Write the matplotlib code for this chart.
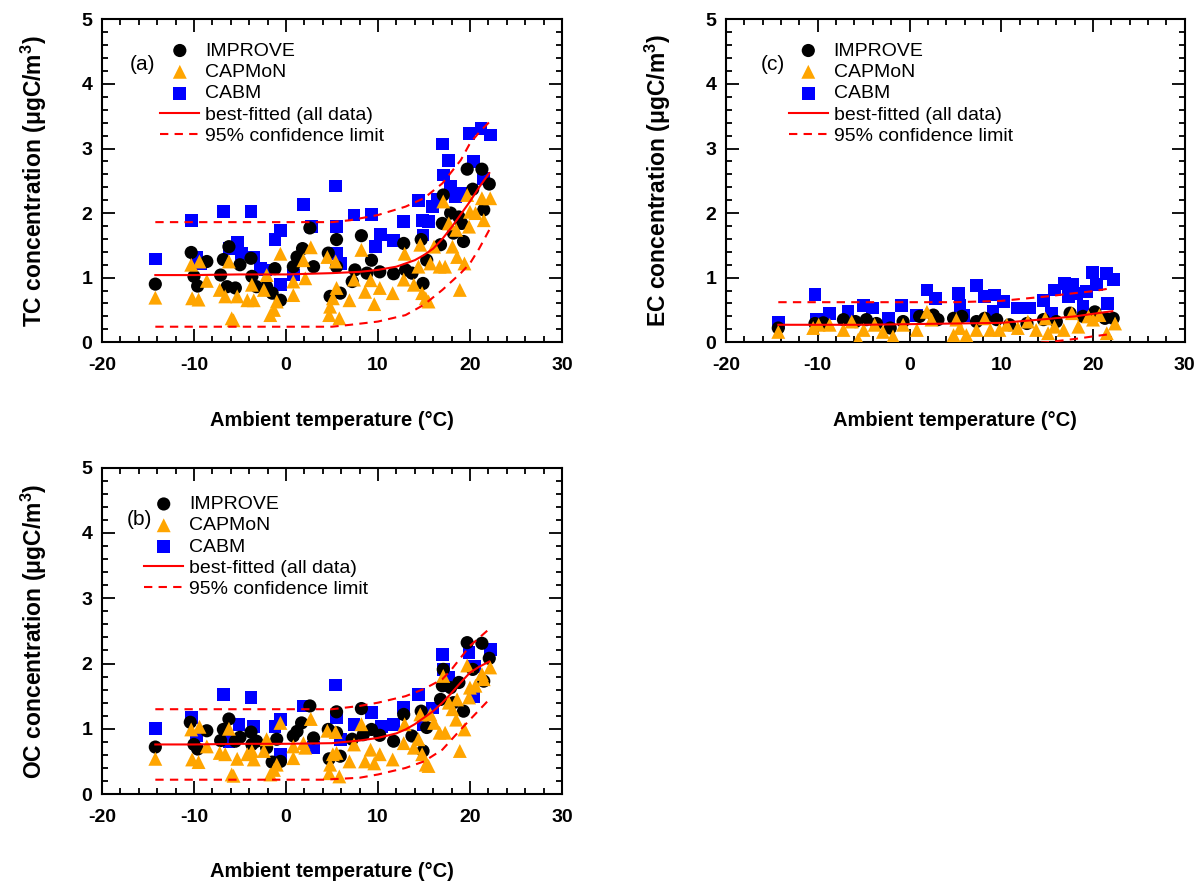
import matplotlib
matplotlib.use('Agg')
import matplotlib.pyplot as plt
from matplotlib.ticker import MultipleLocator

plt.rcParams['font.family'] = ['Liberation Sans', 'DejaVu Sans']
plt.rcParams['mathtext.fontset'] = 'custom'
plt.rcParams['mathtext.rm'] = 'Liberation Sans:bold'
plt.rcParams['mathtext.bf'] = 'Liberation Sans:bold'
plt.rcParams['axes.unicode_minus'] = False

# ---- (a) TC ----
tc_imp_t = [-14.2, -10.3, -10.0, -9.6, -8.6, -7.1, -6.8, -6.2, -6.4, -5.5, -5.0, -3.8, -3.7, -3.2, -2.1, -1.5,
            -1.2, -0.6, 0.8, 1.8, 2.6, 3.0, 1.2, 4.6, 4.8, 5.5, 5.5, 5.9, 7.2, 7.5, 8.2, 8.8, 9.3, 10.2, 11.7,
            12.8, 13.0, 13.7, 14.7, 14.9, 15.3, 16.8, 17.0, 17.1, 17.9, 18.2, 18.8, 19.3, 19.1, 19.7, 20.3,
            21.3, 21.5, 22.1]
tc_imp = [0.90, 1.39, 1.02, 0.87, 1.25, 1.04, 1.28, 1.48, 0.86, 0.84, 1.20, 1.30, 1.02, 0.86, 0.86, 0.76,
          1.14, 0.65, 1.17, 1.45, 1.77, 1.17, 1.32, 1.38, 0.71, 1.59, 1.17, 0.76, 0.94, 1.12, 1.65, 1.07, 1.27,
          1.09, 1.06, 1.53, 1.12, 1.07, 1.59, 0.91, 1.27, 1.51, 1.84, 2.28, 2.00, 1.69, 1.94, 1.56, 1.84, 2.68,
          2.37, 2.68, 2.05, 2.45]
tc_cap_t = [-14.2, -10.3, -10.2, -9.5, -9.4, -8.6, -7.2, -6.2, -6.6, -5.9, -5.7, -5.3, -4.2, -3.7, -3.5, -2.4,
            -2.1, -1.7, -1.3, -1.0, -0.6, 0.8, 0.8, 1.9, 2.1, 2.7, 4.5, 4.7, 4.8, 5.1, 5.4, 5.5, 5.8, 6.9, 7.4,
            8.2, 8.6, 9.2, 9.6, 10.2, 11.6, 12.8, 12.9, 13.9, 14.4, 14.6, 14.8, 15.2, 15.5, 15.7, 16.1, 16.7,
            17.1, 17.3, 17.7, 18.1, 18.5, 18.6, 18.9, 19.4, 19.7, 19.9, 20.0, 20.6, 21.3, 21.5, 22.2]
tc_cap = [0.69, 1.20, 0.68, 0.66, 1.25, 0.95, 0.81, 1.25, 0.71, 0.37, 0.34, 0.71, 0.65, 0.89, 0.65, 0.81,
          1.04, 0.42, 0.50, 0.63, 1.37, 0.73, 0.94, 1.27, 0.99, 1.47, 1.32, 0.42, 0.55, 0.68, 1.25, 0.84, 0.37,
          0.65, 0.97, 1.43, 0.78, 0.96, 0.59, 0.84, 0.76, 0.97, 1.37, 0.89, 1.17, 1.51, 0.76, 0.68, 0.63, 1.22,
          1.48, 1.17, 2.18, 1.17, 1.84, 1.48, 1.74, 1.32, 0.81, 1.22, 2.28, 1.79, 2.02, 2.00, 2.23, 1.89, 2.23]
tc_cab_t = [-14.2, -10.3, -9.7, -9.3, -6.8, -6.2, -5.3, -4.8, -3.8, -3.5, -2.8, -2.2, -1.2, -0.6, -0.6, 0.8,
            1.9, 2.8, 5.4, 5.5, 5.5, 5.9, 7.4, 9.3, 9.7, 10.3, 11.7, 12.8, 14.4, 14.8, 15.5, 14.9, 15.9, 16.5,
            17.0, 17.1, 17.7, 17.9, 18.4, 19.1, 19.9, 20.4, 21.2, 21.5, 22.2]
tc_cab = [1.29, 1.88, 1.32, 1.22, 2.02, 1.45, 1.55, 1.38, 2.03, 1.32, 1.14, 1.12, 1.59, 1.73, 0.89, 1.04,
          2.13, 1.79, 2.42, 1.79, 1.38, 1.22, 1.97, 1.98, 1.48, 1.67, 1.58, 1.87, 2.19, 1.88, 1.87, 1.66, 2.10,
          2.21, 3.07, 2.59, 2.82, 2.41, 2.25, 2.30, 3.23, 2.80, 3.31, 2.54, 3.21]
tc_fit_t = [-14.2, -10, -5, 0, 5, 8, 10, 12, 14, 15, 16, 17, 18, 19, 20, 21, 22.1]
tc_fit = [1.04, 1.04, 1.05, 1.05, 1.07, 1.09, 1.12, 1.17, 1.27, 1.35, 1.45, 1.60, 1.78, 1.98, 2.18, 2.40, 2.62]
tc_up_t = [-14.2, -5, 0, 5, 7, 10, 13, 15, 17, 19, 20, 21, 22.1]
tc_up = [1.86, 1.86, 1.86, 1.86, 1.89, 1.97, 2.10, 2.23, 2.46, 2.82, 3.08, 3.25, 3.41]
tc_lo_t = [-14.2, -5, 0, 5, 7, 10, 13, 15, 17, 19, 20, 21, 22.1]
tc_lo = [0.24, 0.24, 0.24, 0.24, 0.27, 0.32, 0.42, 0.58, 0.81, 1.07, 1.22, 1.45, 1.74]

# ---- (b) OC ----
oc_imp_t = [-14.2, -10.4, -10.0, -9.6, -8.6, -7.1, -6.8, -6.2, -5.5, -5.0, -3.8, -3.7, -3.2, -2.1, -1.5, -1.0,
            -0.6, 0.8, 1.7, 2.6, 3.0, 1.2, 4.6, 4.7, 5.5, 5.5, 5.9, 7.2, 8.2, 8.4, 9.3, 10.2, 11.7, 12.8, 13.7,
            14.7, 14.9, 15.3, 16.8, 17.1, 17.0, 17.9, 18.2, 18.8, 19.3, 19.7, 20.3, 21.3, 21.5, 22.1]
oc_imp = [0.72, 1.10, 0.76, 0.69, 0.97, 0.82, 0.99, 1.15, 0.81, 0.87, 0.95, 0.76, 0.81, 0.71, 0.49, 0.84,
          0.50, 0.89, 1.09, 1.35, 0.86, 0.96, 0.99, 0.54, 1.26, 0.94, 0.58, 0.84, 1.31, 0.91, 0.99, 0.90, 0.81,
          1.22, 0.89, 1.27, 0.66, 1.02, 1.45, 1.91, 1.66, 1.63, 1.40, 1.71, 1.27, 2.32, 1.91, 2.31, 1.73, 2.08]
oc_cap_t = tc_cap_t
oc_cap = [0.54, 0.99, 0.53, 0.49, 1.03, 0.73, 0.63, 1.00, 0.61, 0.30, 0.28, 0.54, 0.61, 0.66, 0.53, 0.66,
          0.84, 0.30, 0.37, 0.45, 1.09, 0.55, 0.73, 0.78, 0.71, 1.15, 0.97, 0.32, 0.45, 0.61, 0.95, 0.63, 0.27,
          0.50, 0.76, 1.07, 0.50, 0.68, 0.47, 0.61, 0.53, 0.78, 1.07, 0.71, 0.84, 1.22, 0.61, 0.45, 0.43, 1.22,
          1.09, 0.94, 1.81, 0.94, 1.40, 1.30, 1.14, 1.45, 0.66, 0.99, 1.97, 1.48, 1.63, 1.66, 1.84, 1.76, 1.94]
oc_cab_t = [-14.2, -10.3, -9.7, -6.8, -6.2, -5.1, -3.8, -3.5, -1.2, -0.6, -0.6, 1.9, 3.0, 5.4, 5.5, 5.9, 7.4,
            9.3, 10.4, 11.7, 12.8, 14.4, 14.9, 15.9, 17.0, 17.1, 17.5, 17.7, 19.9, 20.4, 20.5, 22.2]
oc_cab = [1.00, 1.17, 0.89, 1.53, 0.81, 1.07, 1.48, 1.04, 1.04, 1.14, 0.61, 1.35, 0.71, 1.67, 1.17, 0.84, 1.07,
          1.25, 1.04, 1.07, 1.33, 1.53, 1.07, 1.32, 2.14, 1.91, 1.66, 1.78, 2.17, 1.50, 1.96, 2.22]
oc_fit_t = [-14.2, -10, -5, 0, 5, 8, 10, 12, 13, 14, 15, 16, 17, 18, 19, 20, 21, 22.1]
oc_fit = [0.76, 0.76, 0.77, 0.77, 0.78, 0.82, 0.86, 0.93, 0.99, 1.07, 1.17, 1.27, 1.40, 1.55, 1.71, 1.86, 1.95, 2.03]
oc_up_t = [-14.2, -5, 0, 5, 8, 10, 13, 15, 17, 18, 20, 22.1]
oc_up = [1.30, 1.30, 1.30, 1.30, 1.35, 1.40, 1.50, 1.61, 1.76, 1.91, 2.27, 2.53]
oc_lo_t = [-14.2, -5, 0, 4, 8, 10, 13, 15, 17, 19, 20, 22.1]
oc_lo = [0.22, 0.22, 0.22, 0.22, 0.25, 0.30, 0.40, 0.50, 0.68, 0.99, 1.14, 1.45]

# ---- (c) EC ----
ec_imp_t = [-14.3, -10.3, -9.4, -7.2, -5.9, -4.7, -3.6, -2.1, -0.7, 1.1, 2.6, 3.1, 4.8, 5.7, 7.3, 8.2, 9.5,
            10.9, 12.8, 14.6, 16.0, 17.5, 18.9, 20.2, 21.3, 22.2]
ec_imp = [0.22, 0.29, 0.30, 0.35, 0.32, 0.35, 0.29, 0.22, 0.32, 0.40, 0.42, 0.35, 0.37, 0.40, 0.32, 0.37, 0.35,
          0.27, 0.29, 0.35, 0.32, 0.45, 0.40, 0.47, 0.37, 0.37]
ec_cap_t = [-14.3, -10.5, -9.9, -8.7, -7.2, -6.3, -5.6, -5.0, -3.8, -2.9, -1.8, -0.7, 0.8, 1.9, 2.4, 4.8, 5.1,
            5.5, 6.2, 7.3, 8.2, 8.8, 9.8, 10.6, 11.8, 12.9, 13.8, 14.8, 15.1, 15.8, 16.8, 17.7, 18.4, 19.5,
            20.0, 20.7, 21.5, 22.4]
ec_cap = [0.16, 0.22, 0.27, 0.27, 0.19, 0.32, 0.04, 0.19, 0.27, 0.16, 0.09, 0.27, 0.19, 0.47, 0.35, 0.11, 0.35,
          0.22, 0.11, 0.19, 0.37, 0.19, 0.19, 0.27, 0.22, 0.32, 0.19, 0.37, 0.14, 0.24, 0.19, 0.45, 0.24, 0.40,
          0.35, 0.42, 0.14, 0.29]
ec_cab_t = [-14.3, -10.3, -10.1, -8.7, -6.7, -5.0, -4.0, -2.3, -0.9, 0.8, 1.9, 2.8, 5.3, 5.5, 5.9, 7.3, 8.2,
            9.3, 10.2, 9.1, 11.8, 13.1, 14.6, 15.8, 16.9, 17.8, 17.3, 18.2, 19.3, 19.9, 20.4, 21.5, 21.6, 22.2,
            15.5, 18.9]
ec_cab = [0.30, 0.74, 0.35, 0.45, 0.47, 0.57, 0.53, 0.37, 0.57, 0.42, 0.81, 0.68, 0.76, 0.57, 0.42, 0.88, 0.71,
          0.73, 0.63, 0.47, 0.53, 0.53, 0.65, 0.81, 0.91, 0.89, 0.71, 0.76, 0.78, 1.08, 0.89, 1.07, 0.60, 0.97,
          0.45, 0.55]
ec_fit_t = [-14.3, -5, 0, 5, 10, 15, 18, 20, 22.1]
ec_fit = [0.27, 0.27, 0.28, 0.29, 0.30, 0.36, 0.40, 0.44, 0.48]
ec_up_t = [-14.3, -5, 0, 5, 10, 15, 18, 20, 22.1]
ec_up = [0.62, 0.62, 0.62, 0.62, 0.64, 0.71, 0.76, 0.79, 0.84]
ec_lo_t = [-14.3, 0, 10, 15, 18, 20, 22.1]
ec_lo = [-0.08, -0.06, -0.04, 0.0, 0.05, 0.09, 0.13]

labels = ['IMPROVE', 'CAPMoN', 'CABM', 'best-fitted (all data)', '95% confidence limit']

fig = plt.figure(figsize=(12.01, 8.82), dpi=100)
ax_a = fig.add_axes([0.0849, 0.612, 0.383, 0.366])
ax_c = fig.add_axes([0.6045, 0.612, 0.382, 0.366])
ax_b = fig.add_axes([0.0849, 0.0997, 0.383, 0.370])

# axes, tag, name, data..., legend x/y, tag x/y
panels = [
    (ax_a, '(a)', 'TC', tc_imp_t, tc_imp, tc_cap_t, tc_cap, tc_cab_t, tc_cab,
     tc_fit_t, tc_fit, tc_up_t, tc_up, tc_lo_t, tc_lo, 0.127, 0.93, 0.061, 0.86),
    (ax_b, '(b)', 'OC', oc_imp_t, oc_imp, oc_cap_t, oc_cap, oc_cab_t, oc_cab,
     oc_fit_t, oc_fit, oc_up_t, oc_up, oc_lo_t, oc_lo, 0.092, 0.915, 0.054, 0.84),
    (ax_c, '(c)', 'EC', ec_imp_t, ec_imp, ec_cap_t, ec_cap, ec_cab_t, ec_cab,
     ec_fit_t, ec_fit, ec_up_t, ec_up, ec_lo_t, ec_lo, 0.137, 0.93, 0.076, 0.86),
]

for (ax, tag, name, it, iv, ct, cv, bt, bv, ft, fv, ut, uv, lt, lv, lx, ly, tx, ty) in panels:
    h3 = ax.scatter(bt, bv, marker='s', s=85, color='#0000FF', edgecolors='none', zorder=2)
    h1 = ax.scatter(it, iv, marker='o', s=90, color='black', edgecolors='none', zorder=3)
    h2 = ax.scatter(ct, cv, marker='^', s=100, color='#FFA500', edgecolors='none', zorder=4)
    h4, = ax.plot(ft, fv, color='red', lw=1.5, zorder=5)
    h5, = ax.plot(ut, uv, color='red', lw=1.5, ls=(0, (4, 3)), zorder=5)
    ax.plot(lt, lv, color='red', lw=1.5, ls=(0, (4, 3)), zorder=5)

    ax.set_xlim(-20, 30)
    ax.set_ylim(0, 5)
    ax.xaxis.set_major_locator(MultipleLocator(10))
    ax.xaxis.set_minor_locator(MultipleLocator(2))
    ax.yaxis.set_major_locator(MultipleLocator(1))
    ax.yaxis.set_minor_locator(MultipleLocator(0.2))
    ax.tick_params(which='both', direction='in', top=True, right=True, width=1.3)
    ax.tick_params(which='major', length=9.5, labelsize=14)
    ax.tick_params(axis='x', which='major', pad=11)
    ax.tick_params(axis='y', which='major', pad=7)
    ax.tick_params(which='minor', length=4.5)
    for lab in ax.get_xticklabels() + ax.get_yticklabels():
        lab.set_fontweight('bold')
    for sp in ax.spines.values():
        sp.set_linewidth(1.5)

    ax.set_xlabel('Ambient temperature (°C)', fontsize=14.5, fontweight='bold', labelpad=26)
    ax.set_ylabel(name + ' concentration (μgC/m$^{3}$)', fontsize=16.5, fontweight='bold', labelpad=23.5)

    ax.legend([h1, h2, h3, h4, h5], labels, loc='upper left', bbox_to_anchor=(lx, ly),
              frameon=False, fontsize=14, labelspacing=0.19, handletextpad=0.3,
              handlelength=2.0, borderpad=0, borderaxespad=0, scatterpoints=1)
    ax.text(tx, ty, tag, transform=ax.transAxes, fontsize=15, ha='left', va='center')

fig.savefig('out.png', dpi=100)
